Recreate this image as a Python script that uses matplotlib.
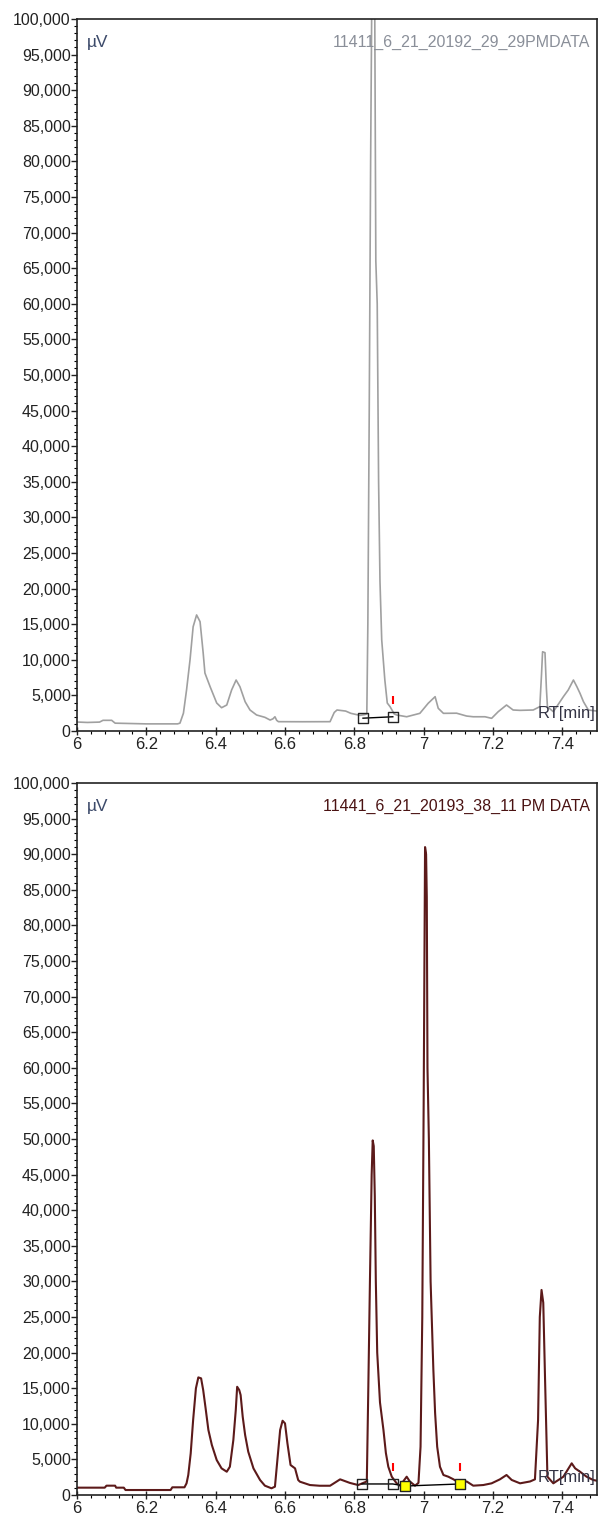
import matplotlib.pyplot as plt
from matplotlib.ticker import MultipleLocator, FuncFormatter

plt.rcParams["font.family"] = ["Liberation Sans", "DejaVu Sans"]

# chromatogram 1 (grey)
top_t = [6.000, 6.030, 6.065, 6.075, 6.100, 6.110, 6.200, 6.290, 6.297, 6.307,
         6.316, 6.326, 6.335, 6.345, 6.355, 6.364, 6.369, 6.384, 6.403, 6.417,
         6.432, 6.446, 6.459, 6.470, 6.485, 6.499, 6.518, 6.542, 6.557, 6.565,
         6.571, 6.576, 6.581, 6.650, 6.730, 6.742, 6.750, 6.775, 6.790, 6.816,
         6.830, 6.836, 6.839, 6.843, 6.847, 6.850, 6.855, 6.859, 6.862, 6.866,
         6.870, 6.874, 6.879, 6.888, 6.895, 6.903, 6.915, 6.922, 6.951, 6.989,
         7.013, 7.033, 7.042, 7.057, 7.095, 7.124, 7.143, 7.177, 7.196, 7.215,
         7.239, 7.258, 7.278, 7.316, 7.335, 7.340, 7.343, 7.350, 7.354, 7.357,
         7.374, 7.403, 7.417, 7.432, 7.442, 7.451, 7.461, 7.475, 7.500]
top_v = [1260, 1200, 1250, 1500, 1500, 1100, 1000, 1000, 1100, 2500,
         5760, 9970, 14640, 16300, 15350, 10950, 8140, 6220, 3930, 3270,
         3650, 5760, 7160, 6220, 4110, 2950, 2250, 1920, 1540, 1700,
         2000, 1500, 1310, 1300, 1310, 2600, 2950, 2800, 2480, 2200,
         2300, 2400, 15000, 45000, 80000, 100500, 118000, 100000, 66000, 60000,
         35000, 21000, 12800, 7160, 3930, 3420, 2400, 2250, 2000, 2480,
         3890, 4820, 3190, 2480, 2500, 2100, 2000, 2000, 1780, 2710,
         3650, 2950, 2900, 2950, 3420, 8000, 11130, 11000, 6000, 3420,
         2710, 4820, 5760, 7160, 6220, 5290, 4110, 2950, 2800]

# chromatogram 2 (maroon)
bot_t = [6.000, 6.080, 6.085, 6.110, 6.113, 6.135, 6.140, 6.270, 6.275, 6.310,
         6.316, 6.321, 6.328, 6.335, 6.343, 6.350, 6.358, 6.364, 6.371, 6.379,
         6.389, 6.403, 6.417, 6.432, 6.441, 6.451, 6.458, 6.462, 6.468, 6.472,
         6.478, 6.485, 6.494, 6.509, 6.528, 6.542, 6.561, 6.571, 6.578, 6.586,
         6.593, 6.600, 6.607, 6.616, 6.629, 6.638, 6.643, 6.672, 6.700, 6.730,
         6.759, 6.787, 6.811, 6.836, 6.840, 6.845, 6.850, 6.853, 6.856, 6.859,
         6.862, 6.866, 6.874, 6.884, 6.891, 6.898, 6.908, 6.922, 6.932, 6.951,
         6.960, 6.975, 6.985, 6.991, 6.996, 7.000, 7.004, 7.007, 7.009, 7.011,
         7.015, 7.020, 7.028, 7.033, 7.039, 7.047, 7.057, 7.071, 7.086, 7.105,
         7.124, 7.143, 7.172, 7.196, 7.220, 7.239, 7.254, 7.278, 7.307, 7.321,
         7.330, 7.335, 7.340, 7.345, 7.350, 7.357, 7.374, 7.403, 7.427, 7.437,
         7.451, 7.470, 7.489, 7.500]
bot_v = [1030, 1030, 1310, 1310, 1030, 1030, 700, 700, 1080, 1080,
         1640, 2810, 5850, 10530, 14980, 16520, 16380, 14740, 12170, 9130,
         7020, 4910, 3740, 3270, 3970, 7720, 11930, 15200, 14740, 14040,
         10990, 8420, 6080, 3740, 2110, 1310, 940, 1170, 4910, 9130,
         10430, 10060, 7260, 4210, 3740, 2110, 1870, 1400, 1300, 1300,
         2200, 1700, 1400, 1900, 14000, 30000, 45000, 49800, 49000, 42000,
         30000, 20000, 13000, 9130, 5900, 3970, 2570, 1640, 1310, 2570,
         1900, 1310, 1700, 6780, 25000, 55000, 91000, 90000, 84000, 60000,
         50000, 30000, 17550, 11510, 6780, 3970, 2810, 2570, 2200, 1640,
         1900, 1310, 1400, 1640, 2200, 2810, 2110, 1640, 1900, 2200,
         10530, 25000, 28800, 27000, 16600, 2570, 1640, 2570, 4450, 3740,
         3270, 2570, 2110, 2000]

# integration baseline points
top_base_t = [6.825, 6.911]
top_base_v = [1800, 2000]
bot_base_t = [6.822, 6.911, 6.946, 7.105]
bot_base_v = [1550, 1550, 1260, 1550]
bot_fill = ["none", "none", "#ffff00", "#ffff00"]
top_mark_t = [6.911]
bot_mark_t = [6.911, 7.105]

top_name = "11411_6_21_20192_29_29PMDATA"
bot_name = "11441_6_21_20193_38_11 PM DATA"

W, H = 598, 1528
fig = plt.figure(figsize=(W / 100, H / 100), dpi=100)
ax1 = fig.add_axes([77 / W, 1 - 731 / H, 520 / W, 712 / H])
ax2 = fig.add_axes([77 / W, 1 - 1495 / H, 520 / W, 712 / H])


def style(ax, name, name_color):
    ax.set_xlim(6, 7.5)
    ax.set_ylim(0, 100000)
    ax.xaxis.set_major_locator(MultipleLocator(0.2))
    ax.xaxis.set_minor_locator(MultipleLocator(0.04))
    ax.yaxis.set_major_locator(MultipleLocator(5000))
    ax.yaxis.set_minor_locator(MultipleLocator(1000))
    ax.xaxis.set_major_formatter(FuncFormatter(lambda v, p: f"{v:.1f}".rstrip("0").rstrip(".")))
    ax.yaxis.set_major_formatter(FuncFormatter(lambda v, p: f"{int(round(v)):,}"))
    ax.tick_params(axis="y", which="major", direction="out", length=4, width=1, pad=0.5,
                   labelsize=11.5, colors="#222222")
    ax.tick_params(axis="y", which="minor", direction="out", length=2.5, width=0.8)
    ax.tick_params(axis="x", which="major", direction="inout", length=6, width=1, pad=1,
                   labelsize=12, colors="#222222")
    ax.tick_params(axis="x", which="minor", direction="out", length=2.5, width=0.8)
    for s in ax.spines.values():
        s.set_linewidth(1.2)
        s.set_color("#222222")
    ax.text(0.019, 0.967, "µV", transform=ax.transAxes, fontsize=12.5,
            color="#3c4a6a", ha="left", va="center")
    ax.text(0.987, 0.967, name, transform=ax.transAxes, fontsize=11.5,
            color=name_color, ha="right", va="center")
    ax.text(0.997, 0.025, "RT[min]", transform=ax.transAxes, fontsize=12,
            color="#333344", ha="right", va="center", zorder=5)


style(ax1, top_name, "#8a8f99")
style(ax2, bot_name, "#4a1212")

ax1.plot(top_t, top_v, color="#a0a0a0", lw=1.2, zorder=2)
ax2.plot(bot_t, bot_v, color="#5c1a1a", lw=1.5, zorder=2)

ax1.plot(top_base_t, top_base_v, color="black", lw=1, zorder=3)
ax1.scatter(top_base_t, top_base_v, marker="s", s=55, facecolors="none",
            edgecolors="#222222", linewidths=1, zorder=4)
ax1.scatter(top_mark_t, [4300] * len(top_mark_t), marker="|", s=40, color="red", zorder=4)

ax2.plot(bot_base_t, bot_base_v, color="black", lw=1, zorder=3)
ax2.scatter(bot_base_t, bot_base_v, marker="s", s=55, facecolors=bot_fill,
            edgecolors="#222222", linewidths=1, zorder=4)
ax2.scatter(bot_mark_t, [3900] * len(bot_mark_t), marker="|", s=40, color="red", zorder=4)

fig.savefig("out.png", dpi=100)
